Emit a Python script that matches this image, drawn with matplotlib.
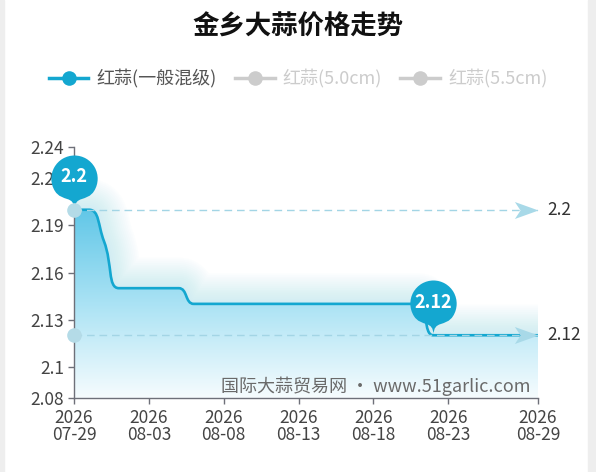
import numpy as np
import pandas as pd
import matplotlib
matplotlib.use("Agg")
import matplotlib.pyplot as plt
from matplotlib.path import Path
from matplotlib.patches import PathPatch, Rectangle
from matplotlib.lines import Line2D
from matplotlib.colors import LinearSegmentedColormap

plt.rcParams['font.family'] = ['Noto Sans CJK SC', 'DejaVu Sans']

# DADOS DO GRÁFICO

datas = pd.date_range("2026-07-29", "2026-08-29", freq="D")
precos = [2.2, 2.2, 2.18, 2.15, 2.15, 2.15, 2.15, 2.15,
          2.14, 2.14, 2.14, 2.14, 2.14, 2.14, 2.14, 2.14,
          2.14, 2.14, 2.14, 2.14, 2.14, 2.14, 2.14, 2.14,
          2.12, 2.12, 2.12, 2.12, 2.12, 2.12, 2.12, 2.12]
series_legenda = ["红蒜(一般混级)", "红蒜(5.0cm)", "红蒜(5.5cm)"]
ticks_y = [2.08, 2.1, 2.13, 2.16, 2.19, 2.22, 2.24]
ticks_x = ["2026-07-29", "2026-08-03", "2026-08-08", "2026-08-13",
           "2026-08-18", "2026-08-23", "2026-08-29"]
titulo = "金乡大蒜价格走势"
marca_dagua = "国际大蒜贸易网 · www.51garlic.com"

AZUL = '#14a7d0'
CINZA = '#cccccc'
EIXO = '#6e7079'

dias = np.array([(d - datas[0]).days for d in datas], dtype=float)
precos = np.array(precos)


def curvaSuave(ax, xs, ys, smooth=0.5):
    # SUAVIZAÇÃO NO ESTILO ECHARTS (BEZIER COM RESTRIÇÃO), FEITA EM PIXELS
    pts = ax.transData.transform(np.column_stack([xs, ys]))
    n = len(pts)
    cps = []
    for i in range(n):
        p = pts[i]
        if i == 0 or i == n - 1:
            cps.append((p.copy(), p.copy()))
            continue
        ant, prox = pts[i - 1], pts[i + 1]
        v = prox - ant
        l_ant = np.hypot(*(p - ant))
        l_prox = np.hypot(*(prox - p))
        razao = l_prox / (l_ant + l_prox)
        cp1 = p + v * smooth * razao
        cp1 = np.maximum(np.minimum(cp1, np.maximum(prox, p)), np.minimum(prox, p))
        cp0 = p - (cp1 - p) * l_ant / l_prox
        cp0 = np.maximum(np.minimum(cp0, np.maximum(ant, p)), np.minimum(ant, p))
        cp1 = p + (p - cp0) * l_prox / l_ant
        cps.append((cp0, cp1))
    verts = [pts[0]]
    codes = [Path.MOVETO]
    for i in range(1, n):
        verts += [cps[i - 1][1], cps[i][0], pts[i]]
        codes += [Path.CURVE4] * 3
    verts = ax.transData.inverted().transform(np.array(verts))
    return verts, codes


def marcadorPino(h=3.0):
    # FORMATO "PIN" COM A PONTA NA ORIGEM
    r = 1.0
    dy = r * r / (h - r)
    c = h - r - dy
    ang = np.arcsin(dy / r)
    dx = np.cos(ang) * r
    tx, ty = np.sin(ang), np.cos(ang)
    cp, cp2 = r * 0.6, r * 0.7
    arco = Path.arc(-np.degrees(ang), 180 + np.degrees(ang))
    verts = list(arco.vertices * r + [0, c])
    codes = list(arco.codes)
    verts += [(-dx + tx * cp, c - dy - ty * cp), (0, cp2), (0, 0),
              (0, cp2), (dx - tx * cp, c - dy - ty * cp), (dx, c - dy), (dx, c - dy)]
    codes += [Path.CURVE4] * 6 + [Path.CLOSEPOLY]
    return Path(verts, codes), c, h - dy


seta = Path([(0, 0), (-1, 0.36), (-0.76, 0), (-1, -0.36), (0, 0)],
            [Path.MOVETO, Path.LINETO, Path.LINETO, Path.LINETO, Path.CLOSEPOLY])

fig = plt.figure(figsize=(5.96, 4.72), dpi=100)
fig.patches.append(Rectangle((0, 0), 4 / 596, 1, transform=fig.transFigure, color='#eeeeee', zorder=-5))
fig.patches.append(Rectangle((588 / 596, 0), 8 / 596, 1, transform=fig.transFigure, color='#eeeeee', zorder=-5))

ax = fig.add_axes([74 / 596, 1 - 398 / 472, 464 / 596, 251 / 472])
ax.set_xlim(dias[0], dias[-1])
ax.set_ylim(2.08, 2.24)

# LINHA SUAVE E ÁREA COM DEGRADÊ

verts, codes = curvaSuave(ax, dias, precos)
caminho_linha = Path(verts, codes)
verts_area = np.vstack([verts, [[dias[-1], 2.08], [dias[0], 2.08], [dias[0], 2.08]]])
codes_area = codes + [Path.LINETO, Path.LINETO, Path.CLOSEPOLY]
caminho_area = Path(verts_area, codes_area)

# BRILHO DIFUSO EM VOLTA DA LINHA (IMITA O SHADOWBLUR)
for lw in np.linspace(44, 4, 16):
    ax.add_patch(PathPatch(caminho_linha, fill=False, edgecolor='#a6e0f3', lw=lw,
                           alpha=0.035, capstyle='butt', joinstyle='round', zorder=0.5))

degrade = LinearSegmentedColormap.from_list('deg', ['#f6fcfe', '#a9e2f4', '#5fc6e7'])
grad = np.linspace(0, 1, 256).reshape(-1, 1)
im = ax.imshow(grad, extent=[dias[0], dias[-1], 2.08, max(precos) + 0.002], aspect='auto',
               cmap=degrade, origin='lower', zorder=1, interpolation='bilinear')
im.set_clip_path(PathPatch(caminho_area, transform=ax.transData))

ax.add_patch(PathPatch(caminho_linha, fill=False, edgecolor=AZUL, lw=1.9,
                       capstyle='round', joinstyle='round', zorder=3))

# LINHAS DE MÁXIMO E MÍNIMO

i_max, i_min = int(np.argmax(precos)), int(np.argmin(precos))
for v in [precos[i_max], precos[i_min]]:
    ax.plot([dias[0], dias[-1]], [v, v], color='#a3d5e5', lw=1, dashes=(5.5, 3.5), zorder=4)
    ax.plot([dias[0]], [v], 'o', ms=9.5, color='#b4dbe7', zorder=6, clip_on=False)
    ax.plot([dias[-1]], [v], marker=seta, ms=34, color='#a8d9e8', mew=0, zorder=5, clip_on=False)
    ax.annotate(f"{v:g}", xy=(dias[-1], v), xytext=(7, 0), textcoords='offset points',
                va='center', ha='left', fontsize=12.5, color='#333333', annotation_clip=False)

# PINOS NO MÁXIMO E NO MÍNIMO

pino, centro, topo = marcadorPino(h=2.9)
ms_pino = 2 * 55 * 0.72
for i in [i_max, i_min]:
    ax.plot([dias[i]], [precos[i]], marker=pino, ms=ms_pino, color=AZUL, mew=0,
            zorder=5, clip_on=False)
    ax.annotate(f"{precos[i]:g}", xy=(dias[i], precos[i]),
                xytext=(0, ms_pino / 2 * centro / topo + 1), textcoords='offset points',
                ha='center', va='center', fontsize=13, fontweight='bold', color='white',
                zorder=7, annotation_clip=False)

# EIXOS

for lado in ['top', 'right']:
    ax.spines[lado].set_visible(False)
for lado in ['left', 'bottom']:
    ax.spines[lado].set_color(EIXO)
    ax.spines[lado].set_linewidth(1)

ax.set_yticks(ticks_y)
ax.set_yticklabels([f"{t:g}" for t in ticks_y])
pos_x = [(pd.Timestamp(t) - datas[0]).days for t in ticks_x]
ax.set_xticks(pos_x)
ax.set_xticklabels([t[:4] + "\n" + t[5:] for t in ticks_x], linespacing=0.95)
ax.tick_params(axis='both', colors=EIXO, labelcolor='#444444', labelsize=12.5, length=4, width=1)
ax.tick_params(axis='y', pad=3)
ax.tick_params(axis='x', pad=4)

ax.text(0.983, 0.048, marca_dagua, transform=ax.transAxes, ha='right', va='center',
        fontsize=13, color='#6a6a6a', zorder=8)

# TÍTULO E LEGENDA

fig.text(0.5, 1 - 27 / 472, titulo, ha='center', va='center', fontsize=19,
         fontweight='bold', color='#111111')

cores = [AZUL, CINZA, CINZA]
handles = [Line2D([], [], color=c, lw=2.5, marker='o', ms=10.5, mew=0) for c in cores]
leg = fig.legend(handles, series_legenda, loc='center', bbox_to_anchor=(0.5, 1 - 79 / 472),
                 ncol=3, frameon=False, fontsize=13, handlelength=2.2, handletextpad=0.45,
                 columnspacing=1.0)
for txt, c in zip(leg.get_texts(), ['#555555', CINZA, CINZA]):
    txt.set_color(c)

fig.savefig("out.png", dpi=100)
